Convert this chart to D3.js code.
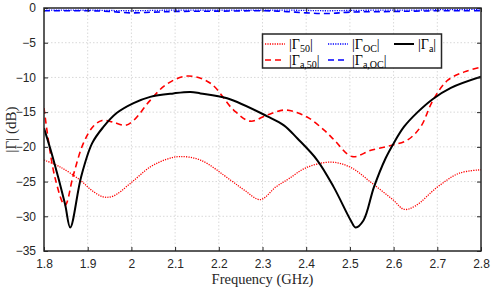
<!DOCTYPE html>
<html>
<head>
<meta charset="utf-8">
<script src="https://cdn.jsdelivr.net/npm/d3@7"></script>
<style>
  body { margin: 0; background: #fff; }
  svg { display: block; }
</style>
</head>
<body>
<div id="chart-mount"></div>
<script>
var WIDTH = 491;
var HEIGHT = 289;
var MARGIN = { top: 8, right: 10, bottom: 38, left: 44 };

var X_TICKS = [1.8, 1.9, 2.0, 2.1, 2.2, 2.3, 2.4, 2.5, 2.6, 2.7, 2.8];
var Y_TICKS = [0, -5, -10, -15, -20, -25, -30, -35];

// |Gamma_50| (red dotted)
var g50Freq = [1.80, 1.837, 1.883, 1.91, 1.935, 1.958, 1.997, 2.043, 2.08, 2.11, 2.158, 2.227, 2.26, 2.295, 2.33, 2.36, 2.40, 2.456, 2.50, 2.55, 2.60, 2.624, 2.65, 2.70, 2.75, 2.80];
var g50Db = [-21.9, -22.9, -24.8, -26.3, -27.2, -27.1, -25.3, -22.9, -21.8, -21.4, -21.9, -24.8, -26.3, -27.6, -25.8, -24.6, -23.0, -22.2, -22.9, -25.2, -27.7, -29.0, -28.5, -25.8, -23.8, -23.3];

// |Gamma_a,50| (red dashed)
var ga50Freq = [1.80, 1.825, 1.848, 1.867, 1.89, 1.912, 1.933, 1.956, 1.986, 2.005, 2.043, 2.08, 2.128, 2.18, 2.234, 2.272, 2.311, 2.353, 2.402, 2.441, 2.464, 2.505, 2.548, 2.594, 2.632, 2.662, 2.69, 2.724, 2.762, 2.80];
var ga50Db = [-14.4, -24.4, -28.4, -24.1, -19.5, -17.1, -16.2, -16.4, -16.9, -16.2, -13.3, -11.0, -9.8, -10.8, -14.7, -16.3, -15.4, -14.7, -15.7, -17.6, -19.0, -21.4, -20.5, -19.8, -19.0, -17.1, -13.3, -10.4, -9.2, -8.5];

// |Gamma_OC| (blue dotted) and |Gamma_a,OC| (blue dashed)
var ocFreq = [1.80, 1.90, 1.95, 2.00, 2.05, 2.10, 2.20, 2.30, 2.35, 2.40, 2.45, 2.50, 2.60, 2.65, 2.70, 2.80];
var gocDb = [-0.3, -0.3, -0.35, -0.4, -0.35, -0.3, -0.3, -0.3, -0.3, -0.35, -0.4, -0.35, -0.3, -0.3, -0.25, -0.2];
var gaocDb = [-0.4, -0.4, -0.5, -0.7, -0.6, -0.5, -0.45, -0.4, -0.5, -0.7, -0.8, -0.6, -0.5, -0.45, -0.4, -0.4];

// |Gamma_a| (black solid)
var gaFreq = [1.80, 1.82, 1.848, 1.86, 1.885, 1.91, 1.935, 1.967, 2.005, 2.043, 2.096, 2.135, 2.158, 2.219, 2.311, 2.349, 2.38, 2.425, 2.463, 2.502, 2.513, 2.531, 2.555, 2.582, 2.60, 2.624, 2.655, 2.69, 2.731, 2.80];
var gaDb = [-17.3, -21.5, -28.2, -31.6, -24.3, -19.5, -17.2, -15.1, -13.7, -12.8, -12.3, -12.1, -12.3, -13.0, -15.6, -16.9, -18.8, -21.9, -25.8, -30.6, -31.6, -30.6, -25.8, -21.6, -19.5, -17.1, -15.0, -13.1, -11.5, -9.9];

var SERIES = [
  { f: g50Freq, v: g50Db, color: '#ff0000', width: 1.3, dash: '1.2,1.2' },
  { f: ga50Freq, v: ga50Db, color: '#ff0000', width: 1.6, dash: '6,4' },
  { f: ocFreq, v: gocDb, color: '#0000ff', width: 1.3, dash: '1.2,1.2' },
  { f: ocFreq, v: gaocDb, color: '#0000ff', width: 1.6, dash: '6,4' },
  { f: gaFreq, v: gaDb, color: '#000000', width: 2, dash: null }
];

var svg = d3.select('#chart-mount').append('svg')
  .attr('width', WIDTH)
  .attr('height', HEIGHT);

var x = d3.scaleLinear()
  .domain([1.8, 2.8])
  .range([MARGIN.left, WIDTH - MARGIN.right]);
var y = d3.scaleLinear()
  .domain([-35, 0])
  .range([HEIGHT - MARGIN.bottom, MARGIN.top]);

var AXIS_COLOR = '#262626';

// grid
svg.append('g')
  .selectAll('line.gx')
  .data(X_TICKS.slice(1, -1))
  .enter()
    .append('line')
    .attr('x1', function (d) { return x(d); })
    .attr('x2', function (d) { return x(d); })
    .attr('y1', y(0))
    .attr('y2', y(-35))
    .attr('stroke', '#d9d9d9')
    .attr('stroke-width', 1)
    .attr('stroke-dasharray', '1.5,2');
svg.append('g')
  .selectAll('line.gy')
  .data(Y_TICKS.slice(1, -1))
  .enter()
    .append('line')
    .attr('y1', function (d) { return y(d); })
    .attr('y2', function (d) { return y(d); })
    .attr('x1', x(1.8))
    .attr('x2', x(2.8))
    .attr('stroke', '#d9d9d9')
    .attr('stroke-width', 1)
    .attr('stroke-dasharray', '1.5,2');

// curves
var line = d3.line()
  .x(function (d) { return x(d[0]); })
  .y(function (d) { return y(d[1]); })
  .curve(d3.curveCatmullRom.alpha(0.5));

svg.append('defs').append('clipPath').attr('id', 'plot-clip')
  .append('rect')
  .attr('x', x(1.8)).attr('y', y(0) - 1)
  .attr('width', x(2.8) - x(1.8)).attr('height', y(-35) - y(0) + 1);

svg.append('g')
  .attr('clip-path', 'url(#plot-clip)')
  .selectAll('path')
  .data(SERIES)
  .enter()
    .append('path')
    .attr('d', function (s) { return line(d3.zip(s.f, s.v)); })
    .attr('fill', 'none')
    .attr('stroke', function (s) { return s.color; })
    .attr('stroke-width', function (s) { return s.width; })
    .attr('stroke-dasharray', function (s) { return s.dash; });

// axes (ticks pointing inward, on all four sides)
function styleAxis (g) {
  g.select('.domain').remove();
  g.selectAll('.tick line').attr('stroke', AXIS_COLOR).attr('stroke-width', 1);
  g.selectAll('.tick text')
    .attr('fill', AXIS_COLOR)
    .style('font-family', '"Liberation Sans", Arial, sans-serif')
    .style('font-size', '12px');
}

svg.append('g')
  .attr('transform', 'translate(0,' + y(-35) + ')')
  .call(d3.axisBottom(x).tickValues(X_TICKS).tickSizeInner(-4).tickSizeOuter(0).tickPadding(8)
    .tickFormat(d3.format('~g')))
  .call(styleAxis);
svg.append('g')
  .attr('transform', 'translate(0,' + y(0) + ')')
  .call(d3.axisTop(x).tickValues(X_TICKS).tickSizeInner(-4).tickSizeOuter(0).tickFormat(''))
  .call(styleAxis);
svg.append('g')
  .attr('transform', 'translate(' + x(1.8) + ',0)')
  .call(d3.axisLeft(y).tickValues(Y_TICKS).tickSizeInner(-4).tickSizeOuter(0).tickPadding(8)
    .tickFormat(d3.format('d')))
  .call(styleAxis);
svg.append('g')
  .attr('transform', 'translate(' + x(2.8) + ',0)')
  .call(d3.axisRight(y).tickValues(Y_TICKS).tickSizeInner(-4).tickSizeOuter(0).tickFormat(''))
  .call(styleAxis);

svg.append('rect')
  .attr('x', x(1.8))
  .attr('y', y(0))
  .attr('width', x(2.8) - x(1.8))
  .attr('height', y(-35) - y(0))
  .attr('fill', 'none')
  .attr('stroke', AXIS_COLOR)
  .attr('stroke-width', 1.5);

// axis labels
var SERIF = '"Liberation Serif", "DejaVu Serif", serif';
svg.append('text')
  .attr('x', (x(1.8) + x(2.8)) / 2)
  .attr('y', 284)
  .attr('text-anchor', 'middle')
  .style('font-family', SERIF)
  .style('font-size', '14.5px')
  .attr('fill', AXIS_COLOR)
  .text('Frequency (GHz)');

svg.append('text')
  .attr('transform', 'translate(16,' + ((y(0) + y(-35)) / 2) + ') rotate(-90)')
  .attr('text-anchor', 'middle')
  .style('font-family', SERIF)
  .style('font-size', '15px')
  .attr('fill', AXIS_COLOR)
  .text('|Γ| (dB)');

// legend
var LEGEND = [
  { s: SERIES[0], main: '|Γ', sub: '50', col: 0, row: 0 },
  { s: SERIES[1], main: '|Γ', sub: 'a,50', col: 0, row: 1 },
  { s: SERIES[2], main: '|Γ', sub: 'OC', col: 1, row: 0 },
  { s: SERIES[3], main: '|Γ', sub: 'a,OC', col: 1, row: 1 },
  { s: SERIES[4], main: '|Γ', sub: 'a', col: 2, row: 0 }
];
var COL_X = [265, 328, 394];
var ROW_Y = [44, 60];

var legend = svg.append('g');
legend.append('rect')
  .attr('x', 262.5)
  .attr('y', 34)
  .attr('width', 179)
  .attr('height', 34)
  .attr('fill', '#fff')
  .attr('stroke', AXIS_COLOR)
  .attr('stroke-width', 1.5);

var items = legend.selectAll('g.item')
  .data(LEGEND)
  .enter()
    .append('g')
    .attr('transform', function (d) { return 'translate(' + COL_X[d.col] + ',' + ROW_Y[d.row] + ')'; });

items.append('line')
  .attr('x1', 0).attr('x2', 20)
  .attr('y1', 0).attr('y2', 0)
  .attr('stroke', function (d) { return d.s.color; })
  .attr('stroke-width', function (d) { return d.s.width; })
  .attr('stroke-dasharray', function (d) { return d.s.dash; });

var label = items.append('text')
  .attr('x', 24)
  .attr('y', 5)
  .style('font-family', SERIF)
  .style('font-size', '14px')
  .attr('fill', '#000');
label.append('tspan').text(function (d) { return d.main; });
label.append('tspan')
  .attr('dy', 3)
  .style('font-size', '10px')
  .text(function (d) { return d.sub; });
label.append('tspan')
  .attr('dy', -3)
  .text('|');
</script>
</body>
</html>
